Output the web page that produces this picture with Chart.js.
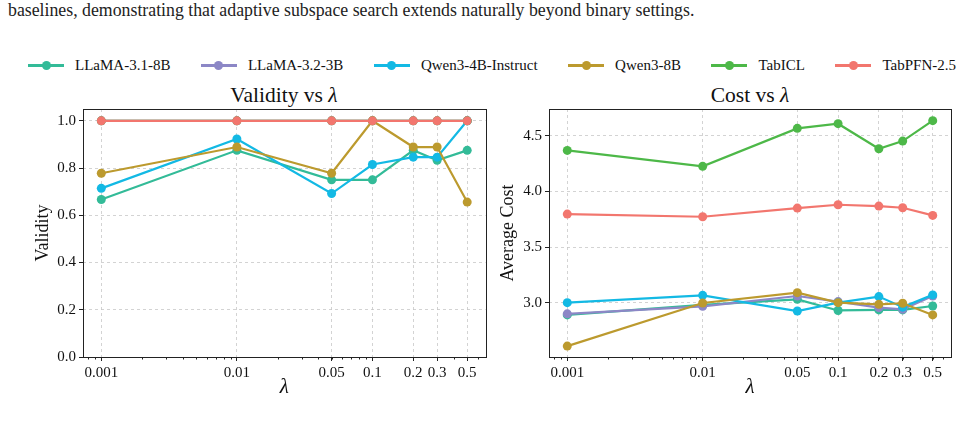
<!DOCTYPE html>
<html>
<head>
<meta charset="utf-8">
<script src="https://cdn.jsdelivr.net/npm/chart.js@4.4.0/dist/chart.umd.min.js"></script>
<style>
  body { margin: 0; background: #fff; font-family: "Liberation Serif", "Times New Roman", serif; color: #111; }
  #pagina { position: relative; width: 960px; height: 426px; overflow: hidden; }
  .caption { position: absolute; left: 8px; top: 0px; font-size: 17.8px; white-space: nowrap; color: #222; }
  #leyenda { position: absolute; left: 28px; width: 928px; top: 55px; height: 20px; display: flex; justify-content: space-between; font-size: 15px; }
  .item { display: flex; align-items: center; }
  .marca { position: relative; width: 36px; height: 20px; margin-right: 11px; }
  .marca .linea { position: absolute; left: 0; right: 0; top: 9px; height: 2.5px; }
  .marca .punto { position: absolute; left: 13.5px; top: 5.5px; width: 9px; height: 9px; border-radius: 50%; }
  .titulo { position: absolute; top: 82px; width: 300px; font-size: 21.5px; text-align: center; line-height: 26px; }
  .grafico { position: absolute; top: 80px; height: 320px; }
</style>
</head>
<body>
<div id="pagina">
  <div class="caption">baselines, demonstrating that adaptive subspace search extends naturally beyond binary settings.</div>
  <div id="leyenda"></div>

  <div class="titulo" style="left:134px">Validity vs <i>λ</i></div>
  <div class="titulo" style="left:600px">Cost vs <i>λ</i></div>

  <div class="grafico" style="left:0; width:490px"><canvas id="grafico-validez"></canvas></div>
  <div class="grafico" style="left:490px; width:470px"><canvas id="grafico-costo"></canvas></div>
</div>

<script>
// Datos
const lambdas = [0.001, 0.01, 0.05, 0.1, 0.2, 0.3, 0.5];
const modelos = ['LLaMA-3.1-8B', 'LLaMA-3.2-3B', 'Qwen3-4B-Instruct', 'Qwen3-8B', 'TabICL', 'TabPFN-2.5'];
const colores = ['#33bb98', '#8c87c6', '#13b9e4', '#bc9a2e', '#4db848', '#f2766e'];

// Validez por modelo
const validezLlama31 = [0.667, 0.875, 0.75, 0.75, 0.875, 0.833, 0.875];
const validezLlama32 = [1.0, 1.0, 1.0, 1.0, 1.0, 1.0, 1.0];
const validezQwen4b  = [0.714, 0.923, 0.692, 0.815, 0.846, 0.846, 1.0];
const validezQwen8b  = [0.778, 0.889, 0.778, 1.0, 0.889, 0.889, 0.656];
const validezTabicl  = [1.0, 1.0, 1.0, 1.0, 1.0, 1.0, 1.0];
const validezTabpfn  = [1.0, 1.0, 1.0, 1.0, 1.0, 1.0, 1.0];

// Costo promedio por modelo
const costoLlama31 = [2.89, 2.98, 3.03, 2.93, 2.935, 2.935, 2.97];
const costoLlama32 = [2.90, 2.967, 3.06, 3.01, 2.955, 2.94, 3.06];
const costoQwen4b  = [3.0, 3.066, 2.925, 3.0, 3.055, 2.96, 3.07];
const costoQwen8b  = [2.61, 2.997, 3.09, 3.0, 2.985, 2.995, 2.89];
const costoTabicl  = [4.368, 4.225, 4.566, 4.608, 4.383, 4.452, 4.635];
const costoTabpfn  = [3.796, 3.772, 3.850, 3.880, 3.868, 3.853, 3.784];

// Marcas de los ejes
const ticksValidez = [0.0, 0.2, 0.4, 0.6, 0.8, 1.0];
const ticksCosto = [3.0, 3.5, 4.0, 4.5];

const validez = [validezLlama31, validezLlama32, validezQwen4b, validezQwen8b, validezTabicl, validezTabpfn];
const costo = [costoLlama31, costoLlama32, costoQwen4b, costoQwen8b, costoTabicl, costoTabpfn];

// Leyenda compartida
const leyenda = document.getElementById('leyenda');
modelos.forEach((m, i) => {
    leyenda.innerHTML += `
        <div class="item">
            <span class="marca"><span class="linea" style="background:${colores[i]}"></span><span class="punto" style="background:${colores[i]}"></span></span>
            <span>${m}</span>
        </div>`;
});

const fuente = '"Liberation Serif", "Times New Roman", serif';

// Marco del eje y marcas menores logaritmicas
const marcoPlugin = {
    id: 'marco',
    afterDraw(chart) {
        const ctx = chart.ctx;
        const a = chart.chartArea;
        const x = chart.scales.x;
        ctx.save();
        ctx.strokeStyle = '#222';
        ctx.lineWidth = 1;
        ctx.beginPath();
        for (let k = -4; k <= 0; k++) {
            for (let m = 2; m <= 9; m++) {
                const v = m * Math.pow(10, k);
                if (v < x.min || v > x.max) continue;
                const px = Math.round(x.getPixelForValue(v)) + 0.5;
                ctx.moveTo(px, a.bottom);
                ctx.lineTo(px, a.bottom + 2.5);
            }
        }
        ctx.stroke();
        ctx.strokeRect(Math.round(a.left) + 0.5, Math.round(a.top) + 0.5, Math.round(a.right - a.left), Math.round(a.bottom - a.top));
        ctx.restore();
    }
};

function crearGrafico(idCanvas, series, opts) {
    const datasets = series.map((serie, i) => ({
        label: modelos[i],
        data: lambdas.map((l, j) => ({ x: l, y: serie[j] })),
        borderColor: colores[i],
        backgroundColor: colores[i],
        borderWidth: 2.2,
        pointRadius: 4.5,
        pointHoverRadius: 4.5,
        pointBorderWidth: 0,
        order: series.length - i
    }));

    return new Chart(document.getElementById(idCanvas), {
        type: 'line',
        data: { datasets },
        options: {
            responsive: true,
            maintainAspectRatio: false,
            animation: false,
            layout: { padding: { top: 29, right: opts.derecha, bottom: 0, left: 0 } },
            plugins: { legend: { display: false }, tooltip: { enabled: false } },
            scales: {
                x: {
                    type: 'logarithmic',
                    min: Math.pow(10, -3.135),
                    max: Math.pow(10, -0.166),
                    afterBuildTicks: s => { s.ticks = lambdas.map(v => ({ value: v })); },
                    afterFit: s => { s.height = 43; },
                    ticks: {
                        autoSkip: false, maxRotation: 0, padding: 3,
                        color: '#111', font: { family: fuente, size: 15 },
                        callback: v => String(v)
                    },
                    grid: { color: '#c8c8c8', lineWidth: 0.8, tickLength: 4, tickColor: '#222', tickWidth: 1 },
                    border: { display: false, dash: [3, 3] },
                    title: { display: true, text: 'λ', color: '#111', padding: { top: 0, bottom: 0 },
                             font: { family: fuente, size: 21, style: 'italic' } }
                },
                y: {
                    min: opts.min,
                    max: opts.max,
                    afterBuildTicks: s => { s.ticks = opts.ticks.map(v => ({ value: v })); },
                    afterFit: s => { s.width = opts.ancho; },
                    ticks: {
                        padding: 3, color: '#111', font: { family: fuente, size: 15 },
                        callback: v => v.toFixed(1)
                    },
                    grid: { color: '#c8c8c8', lineWidth: 0.8, tickLength: 4, tickColor: '#222', tickWidth: 1 },
                    border: { display: false, dash: [3, 3] },
                    title: { display: true, text: opts.etiqueta, color: '#111', padding: { top: opts.padTitulo, bottom: 0 },
                             font: { family: fuente, size: 18 } }
                }
            }
        },
        plugins: [marcoPlugin]
    });
}

crearGrafico('grafico-validez', validez, {
    min: 0, max: 1.05, ticks: ticksValidez, ancho: 83, derecha: 4, etiqueta: 'Validity', padTitulo: 32
});
crearGrafico('grafico-costo', costo, {
    min: 2.512, max: 4.74, ticks: ticksCosto, ancho: 59, derecha: 9, etiqueta: 'Average Cost', padTitulo: 7
});
</script>
</body>
</html>
